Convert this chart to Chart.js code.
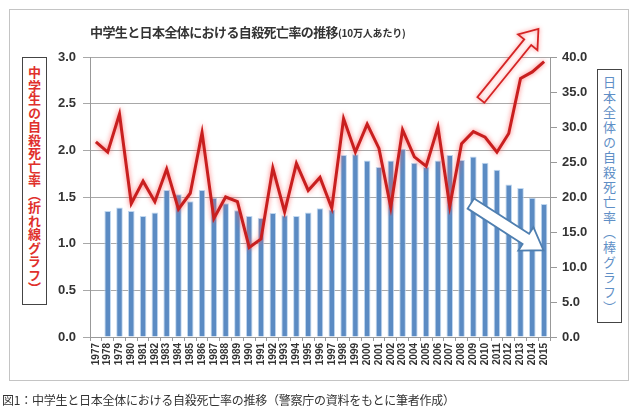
<!DOCTYPE html>
<html><head><meta charset="utf-8">
<script src="https://cdn.jsdelivr.net/npm/chart.js@4/dist/chart.umd.min.js"></script>
<style>
body{margin:0;background:#fff;}
#wrap{position:relative;width:640px;height:417px;overflow:hidden;font-family:"Noto Sans CJK JP",sans-serif;}
#frame{position:absolute;left:9px;top:9px;width:618px;height:370px;border:1px solid #c4c4c4;}
canvas{position:absolute;left:0;top:0;}
#title{position:absolute;left:90px;top:23px;white-space:nowrap;font-weight:bold;font-size:13px;line-height:18px;color:#333;letter-spacing:-0.6px;}
#title small{font-size:10px;letter-spacing:-0.2px;}
.vt{position:absolute;writing-mode:vertical-rl;text-orientation:upright;border:1.5px solid #444;box-sizing:border-box;display:flex;align-items:center;justify-content:center;background:#fff;}
#lt{left:22px;top:57px;width:25px;height:248px;color:#e0302c;font-weight:bold;font-size:13px;letter-spacing:0.5px;}
#rt{left:597px;top:69px;width:25px;height:254px;color:#5f8fc6;font-size:13px;letter-spacing:2px;}
#cap{position:absolute;left:2px;top:391px;font-size:12px;line-height:18px;color:#333;white-space:nowrap;letter-spacing:-0.25px;}
</style></head>
<body>
<div id="wrap">
<div id="frame"></div>
<canvas id="c" width="640" height="417"></canvas>
<div id="title">中学生と日本全体における自殺死亡率の推移<small>(10万人あたり)</small></div>
<div id="lt" class="vt">中学生の自殺死亡率（折れ線グラフ）</div>
<div id="rt" class="vt">日本全体の自殺死亡率（棒グラフ）</div>
<div id="cap">図1：中学生と日本全体における自殺死亡率の推移（警察庁の資料をもとに筆者作成）</div>
</div>
<script>
const years = ['1977','1978','1979','1980','1981','1982','1983','1984','1985','1986','1987','1988','1989','1990','1991','1992','1993','1994','1995','1996','1997','1998','1999','2000','2001','2002','2003','2004','2005','2006','2007','2008','2009','2010','2011','2012','2013','2014','2015'];
// 中学生の自殺死亡率 (left axis, line)
const juniorHighRate = [2.09,1.98,2.39,1.43,1.67,1.45,1.80,1.37,1.54,2.19,1.27,1.50,1.45,0.96,1.05,1.81,1.34,1.86,1.57,1.71,1.38,2.34,1.98,2.28,2.02,1.39,2.22,1.93,1.83,2.25,1.40,2.07,2.20,2.14,1.98,2.18,2.77,2.84,2.95];
// 日本全体の自殺死亡率 (right axis, bars)
const nationalRate = [null,18.0,18.5,18.0,17.3,17.8,21.0,20.4,19.4,21.0,19.9,19.1,18.1,17.3,17.0,17.7,17.4,17.3,17.8,18.4,18.2,26.0,26.1,25.2,24.3,25.2,26.9,24.9,24.3,25.2,26.0,25.3,25.8,24.9,23.9,21.8,21.3,19.9,19.0];
const leftTicks = {min:0, max:3, step:0.5};
const rightTicks = {min:0, max:40, step:5};

const tickFont = {family:'"Liberation Sans", Arial, sans-serif', size:13, weight:'bold'};

const glowPlugin = {
  id:'glow',
  beforeDatasetDraw(chart, args){
    if(args.index===0){const c=chart.ctx;c.save();c.shadowColor='rgba(255,90,90,0.85)';c.shadowBlur=5;}
  },
  afterDatasetDraw(chart, args){ if(args.index===0) chart.ctx.restore(); }
};

function blockArrow(ctx, x1,y1,x2,y2, sw, hw, hl, stroke, glow){
  const dx=x2-x1, dy=y2-y1, len=Math.hypot(dx,dy);
  const ux=dx/len, uy=dy/len, px=-uy, py=ux;
  const bx=x2-ux*hl, by=y2-uy*hl;
  const pts=[[x1+px*sw/2,y1+py*sw/2],[bx+px*sw/2,by+py*sw/2],[bx+px*hw/2,by+py*hw/2],[x2,y2],[bx-px*hw/2,by-py*hw/2],[bx-px*sw/2,by-py*sw/2],[x1-px*sw/2,y1-py*sw/2]];
  ctx.save();
  ctx.beginPath();
  pts.forEach((p,i)=> i?ctx.lineTo(p[0],p[1]):ctx.moveTo(p[0],p[1]));
  ctx.closePath();
  ctx.fillStyle='#fff';
  ctx.fill();
  if(glow){ctx.shadowColor=glow;ctx.shadowBlur=4;}
  ctx.strokeStyle=stroke; ctx.lineWidth=1.8; ctx.lineJoin='miter';
  ctx.stroke();
  ctx.restore();
}

const arrowPlugin = {
  id:'arrows',
  afterDatasetsDraw(chart){
    const {ctx, scales:{x,y,y2}} = chart;
    blockArrow(ctx, x.getPixelForValue(32.64), y.getPixelForValue(2.54), x.getPixelForValue(37.52), y.getPixelForValue(3.30), 9, 25, 17, '#d42424', 'rgba(255,120,120,0.9)');
    blockArrow(ctx, x.getPixelForValue(31.79), y2.getPixelForValue(19.06), x.getPixelForValue(37.95), y2.getPixelForValue(12.39), 12, 28, 21, '#4f7fb0', null);
  }
};

new Chart(document.getElementById('c'), {
  data:{
    labels: years,
    datasets:[
      {type:'line', label:'中学生', data: juniorHighRate, yAxisID:'y', borderColor:'#c81f1f', borderWidth:3, pointRadius:0, tension:0, fill:false},
      {type:'bar', label:'日本全体', data: nationalRate, yAxisID:'y2', backgroundColor:'#5b8bc3', borderColor:'rgba(185,212,238,0.9)', borderWidth:1, barPercentage:0.56, categoryPercentage:1}
    ]
  },
  options:{
    responsive:false, animation:false, events:[],
    layout:{padding:{left:50,right:40,top:57,bottom:35}},
    plugins:{legend:{display:false}, tooltip:{enabled:false}, title:{display:false}},
    scales:{
      x:{
        grid:{display:true, drawOnChartArea:false, drawTicks:true, tickLength:4, color:'#999', offset:true},
        border:{display:true, color:'#999'},
        ticks:{minRotation:90, maxRotation:90, autoSkip:false, color:'#333', padding:2, font:{family:tickFont.family, size:10, weight:'bold'}},
        afterFit(s){s.height=45;}
      },
      y:{
        position:'left', min:leftTicks.min, max:leftTicks.max,
        ticks:{stepSize:leftTicks.step, callback:v=>Number(v).toFixed(1), color:'#333', padding:7, font:tickFont},
        grid:{color:'#a8a8a8', tickLength:7, lineWidth:1},
        border:{color:'#999'},
        afterFit(s){s.width=40;}
      },
      y2:{
        position:'right', min:rightTicks.min, max:rightTicks.max,
        ticks:{stepSize:rightTicks.step, callback:v=>Number(v).toFixed(1), color:'#333', padding:5, font:tickFont},
        grid:{drawOnChartArea:false, tickLength:7, color:'#999'},
        border:{color:'#999'},
        afterFit(s){s.width=50;}
      }
    }
  },
  plugins:[glowPlugin, arrowPlugin]
});
</script>
</body></html>
